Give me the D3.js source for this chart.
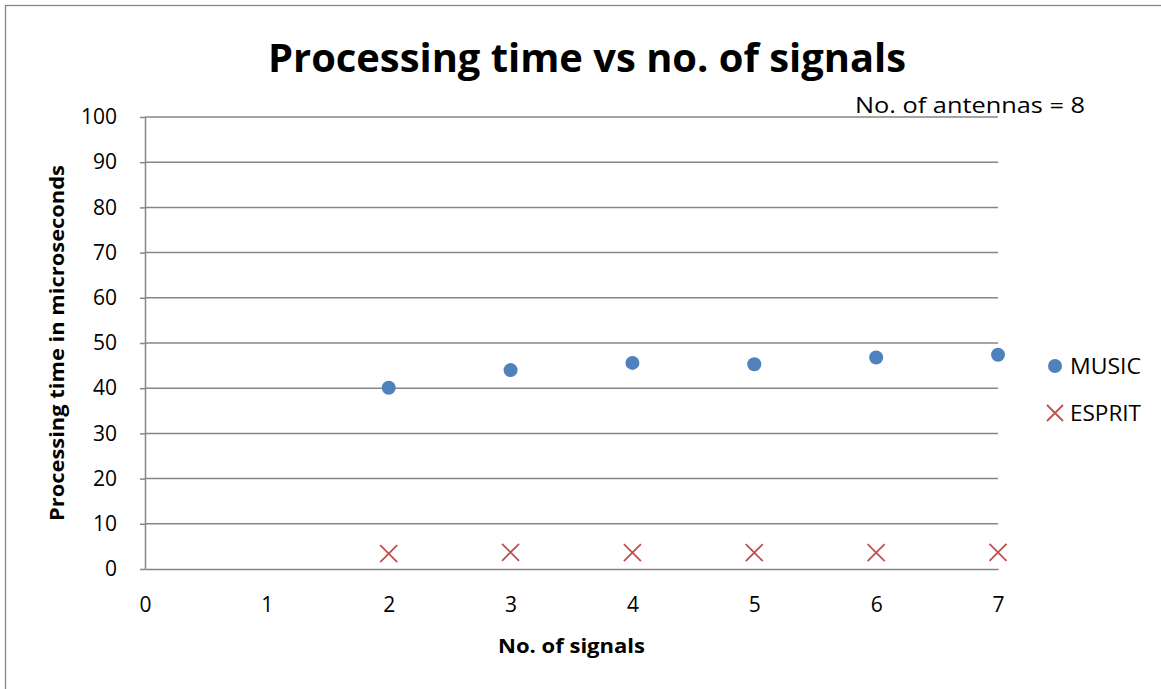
<!DOCTYPE html>
<html><head><meta charset="utf-8">
<script src="https://cdn.jsdelivr.net/npm/d3@7"></script>
<style>body{margin:0;background:#fff;} svg{display:block;font-family:"Open Sans",sans-serif;}</style>
</head><body>
<svg id="c" width="1161" height="689"></svg>
<script>
const signals = [2, 3, 4, 5, 6, 7];
const musicTimes = [40.1, 44.0, 45.6, 45.3, 46.8, 47.4];
const espritTimes = [3.4, 3.7, 3.6, 3.6, 3.6, 3.7];
const xTicks = [0, 1, 2, 3, 4, 5, 6, 7];
const yTicks = [0, 10, 20, 30, 40, 50, 60, 70, 80, 90, 100];
const seriesNames = ["MUSIC", "ESPRIT"];

(function () {
const svg = d3.select("#c");
const pL = 145, pR = 998, pT = 117, pB = 569;
const x = d3.scaleLinear().domain([0, 7]).range([pL, pR]);
const y = d3.scaleLinear().domain([0, 100]).range([pB, pT]);
const FONT = "'Open Sans',sans-serif";
const GRID = "#868686";

// outer chart border
svg.append("rect").attr("x", 5.5).attr("y", 5.5).attr("width", 1200).attr("height", 800)
  .attr("fill", "none").attr("stroke", GRID).attr("stroke-width", 1.3);

// gridlines
svg.append("g").selectAll("line").data(yTicks.filter(d => d > 0)).join("line")
  .attr("x1", pL).attr("x2", pR).attr("y1", d => y(d)).attr("y2", d => y(d))
  .attr("stroke", GRID).attr("stroke-width", 1.5);

// y axis
const yAxis = svg.append("g").attr("transform", `translate(${pL},0)`)
  .call(d3.axisLeft(y).tickValues(yTicks).tickFormat(d3.format("d")).tickSize(5).tickSizeOuter(0).tickPadding(23));
yAxis.select(".domain").attr("stroke", GRID).attr("stroke-width", 1.5);
yAxis.selectAll(".tick line").attr("stroke", GRID).attr("stroke-width", 1.5);
yAxis.selectAll("text").attr("font-size", 21).attr("fill", "#000").attr("font-family", FONT);

// x axis
const xAxis = svg.append("g").attr("transform", `translate(0,${pB})`)
  .call(d3.axisBottom(x).tickValues(xTicks).tickFormat(d3.format("d")).tickSize(0).tickPadding(28));
xAxis.select(".domain").attr("stroke", GRID).attr("stroke-width", 1.5);
xAxis.selectAll("text").attr("font-size", 21).attr("fill", "#000").attr("font-family", FONT);

// MUSIC points
svg.append("g").selectAll("circle").data(signals.map((s, i) => [s, musicTimes[i]])).join("circle")
  .attr("cx", d => x(d[0])).attr("cy", d => y(d[1])).attr("r", 7)
  .attr("fill", "#4F81BD");

// ESPRIT crosses
const cross = (g, cx, cy, s) => g.append("path")
  .attr("d", `M${cx - s},${cy - s}L${cx + s},${cy + s}M${cx - s},${cy + s}L${cx + s},${cy - s}`)
  .attr("stroke", "#C0504D").attr("stroke-width", 1.8).attr("fill", "none");
const eg = svg.append("g");
signals.forEach((s, i) => cross(eg, x(s), y(espritTimes[i]), 8.5));

// title
svg.append("text").attr("x", 268).attr("y", 72)
  .attr("font-size", 39).attr("font-weight", "bold")
  .attr("textLength", 638).attr("lengthAdjust", "spacingAndGlyphs")
  .text("Processing time vs no. of signals");

// annotation
svg.append("text").attr("x", 855).attr("y", 113).attr("font-size", 22)
  .attr("textLength", 230).attr("lengthAdjust", "spacingAndGlyphs")
  .text("No. of antennas = 8");

// axis titles
svg.append("text").attr("x", 498).attr("y", 653)
  .attr("font-size", 20).attr("font-weight", "bold")
  .attr("textLength", 147).attr("lengthAdjust", "spacingAndGlyphs")
  .text("No. of signals");
svg.append("text").attr("transform", "translate(64,521) rotate(-90)")
  .attr("font-size", 20).attr("font-weight", "bold")
  .attr("textLength", 356).attr("lengthAdjust", "spacingAndGlyphs")
  .text("Processing time in microseconds");

// legend
const lg = svg.append("g");
lg.append("circle").attr("cx", 1055).attr("cy", 366).attr("r", 7).attr("fill", "#4F81BD");
lg.append("text").attr("x", 1070).attr("y", 374).attr("font-size", 22)
  .attr("textLength", 71).attr("lengthAdjust", "spacingAndGlyphs").text(seriesNames[0]);
cross(lg, 1055, 413, 8);
lg.append("text").attr("x", 1070).attr("y", 421).attr("font-size", 22)
  .attr("textLength", 71).attr("lengthAdjust", "spacingAndGlyphs").text(seriesNames[1]);
})();
</script>
</body></html>
